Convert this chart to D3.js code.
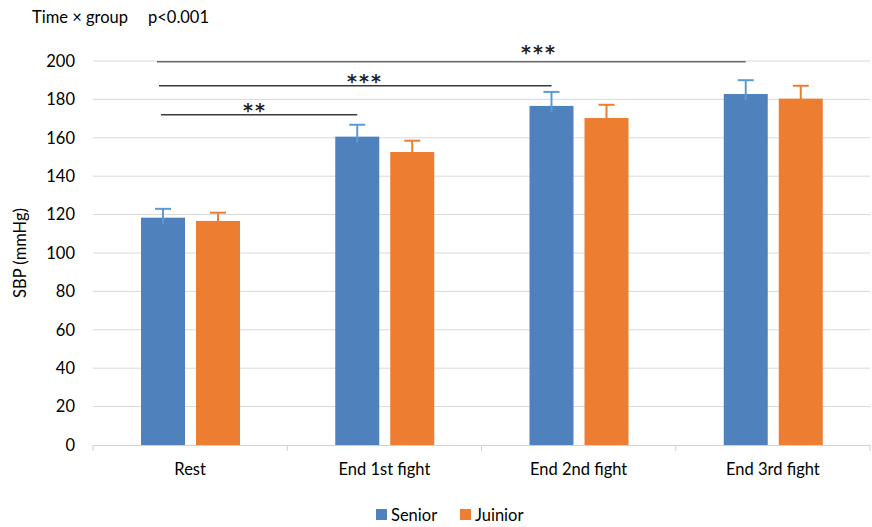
<!DOCTYPE html>
<html>
<head>
<meta charset="utf-8">
<script src="https://cdn.jsdelivr.net/npm/d3@7/dist/d3.min.js"></script>
<style>
  html, body { margin: 0; padding: 0; background: #fff; }
  svg { display: block; font-family: Lato, "Open Sans", sans-serif; }
</style>
</head>
<body>
<svg id="chart" width="872" height="527"></svg>
<script>
// Systolic blood pressure by time point and group
const categories = ["Rest", "End 1st fight", "End 2nd fight", "End 3rd fight"];
const groups = ["Senior", "Juinior"];
const seniorMean = [118.4, 160.6, 176.6, 182.8];
const seniorSD = [4.6, 6.2, 7.3, 7.2];
const juniorMean = [116.7, 152.6, 170.3, 180.4];
const juniorSD = [4.3, 5.9, 6.9, 6.7];
const yTicks = [0, 20, 40, 60, 80, 100, 120, 140, 160, 180, 200];
// pairwise comparisons against Rest (Senior bar)
const comparisons = [
  { to: 1, level: 172, label: "**" },
  { to: 2, level: 187.1, label: "***" },
  { to: 3, level: 199.6, label: "***" }
];
const interactionLabel = "Time \u00d7 group";
const interactionP = "p<0.001";

const colors = { Senior: "#4f81bd", Juinior: "#ed7d31" };
const errColors = { Senior: "#5b9bd5", Juinior: "#ed7d31" };
const FS = 16.5;

const svg = d3.select("#chart");
const m = { left: 93, right: 2, top: 61, bottom: 82 };
const W = 872, H = 527;

const x = d3.scaleBand().domain(categories).range([m.left, W - m.right]).paddingInner(0).paddingOuter(0);
const y = d3.scaleLinear().domain([0, 200]).range([H - m.bottom, m.top]);

// gridlines
svg.append("g").selectAll("line").data(yTicks.filter(d => d > 0)).join("line")
  .attr("x1", m.left).attr("x2", W - m.right)
  .attr("y1", d => y(d)).attr("y2", d => y(d))
  .attr("stroke", "#d9d9d9").attr("stroke-width", 1);

// y tick labels
svg.append("g").selectAll("text").data(yTicks).join("text")
  .attr("x", 75).attr("y", d => y(d)).attr("dy", "0.35em")
  .attr("text-anchor", "end").attr("font-size", FS).attr("fill", "#000")
  .text(d => d);

// y axis title
svg.append("text")
  .attr("transform", `translate(26,${(y(0) + y(200)) / 2}) rotate(-90)`)
  .attr("text-anchor", "middle").attr("font-size", FS).attr("fill", "#000")
  .text("SBP (mmHg)");

// x axis
const xAxis = d3.axisBottom(x).tickSize(0).tickPadding(0);
const gx = svg.append("g").attr("transform", `translate(0,${y(0)})`).call(xAxis);
gx.select(".domain").remove();
gx.selectAll(".tick text").attr("font-size", FS).attr("fill", "#000")
  .attr("font-family", "Lato, 'Open Sans', sans-serif").attr("dy", "1.8em");
svg.append("line").attr("x1", m.left).attr("x2", W - m.right)
  .attr("y1", y(0) + 0.5).attr("y2", y(0) + 0.5).attr("stroke", "#d0d0d0");
const boundaries = categories.map(c => x(c)).concat([x(categories[3]) + x.bandwidth()]);
svg.append("g").selectAll("line").data(boundaries).join("line")
  .attr("x1", d => d).attr("x2", d => d)
  .attr("y1", y(0)).attr("y2", y(0) + 6)
  .attr("stroke", "#d0d0d0");

// bars and error bars
const rows = [];
categories.forEach((c, i) => {
  rows.push({ cat: c, group: "Senior", mean: seniorMean[i], sd: seniorSD[i] });
  rows.push({ cat: c, group: "Juinior", mean: juniorMean[i], sd: juniorSD[i] });
});
const bw = 44;
const offsets = { Senior: 48, Juinior: 103 };
const bx = d => x(d.cat) + offsets[d.group];

svg.append("g").selectAll("rect").data(rows).join("rect")
  .attr("x", d => bx(d)).attr("width", bw)
  .attr("y", d => y(d.mean)).attr("height", d => y(0) - y(d.mean))
  .attr("fill", d => colors[d.group]);

const eb = svg.append("g").selectAll("g").data(rows).join("g")
  .attr("stroke", d => errColors[d.group]).attr("stroke-width", 2);
eb.append("line")
  .attr("x1", d => bx(d) + bw / 2).attr("x2", d => bx(d) + bw / 2)
  .attr("y1", d => y(d.mean) + 6).attr("y2", d => y(d.mean + d.sd));
eb.append("line")
  .attr("x1", d => bx(d) + bw / 2 - 8).attr("x2", d => bx(d) + bw / 2 + 8)
  .attr("y1", d => y(d.mean + d.sd)).attr("y2", d => y(d.mean + d.sd));

// significance brackets
const startX = [161, 159, 157];
const labelX = [255, 365, 539];
const labelShift = [2, 2, -3];
comparisons.forEach((cmp, i) => {
  const x1 = startX[i];
  const x2 = bx({ cat: categories[cmp.to], group: "Senior" }) + bw / 2;
  svg.append("line").attr("x1", x1).attr("x2", x2)
    .attr("y1", y(cmp.level)).attr("y2", y(cmp.level))
    .attr("stroke", i === 2 ? "#6a6a6a" : "#3a3a3a").attr("stroke-width", 1.3);
  svg.append("text").attr("x", labelX[i]).attr("y", y(cmp.level) + labelShift[i])
    .attr("text-anchor", "middle").attr("font-size", 19)
    .attr("font-family", "'DejaVu Sans', sans-serif").attr("font-weight", "bold")
    .attr("letter-spacing", "2px")
    .attr("fill", "#222").text(cmp.label);
});

// interaction note
svg.append("text").attr("x", 32).attr("y", 23).attr("font-size", FS).attr("fill", "#000")
  .text(interactionLabel);
svg.append("text").attr("x", 148).attr("y", 23).attr("font-size", FS).attr("fill", "#000")
  .text(interactionP);

// legend
const lg = svg.append("g").attr("transform", "translate(376,509)");
const items = lg.selectAll("g").data(groups).join("g")
  .attr("transform", (d, i) => `translate(${i * 84},0)`);
items.append("rect").attr("width", 11).attr("height", 11).attr("fill", d => colors[d]);
items.append("text").attr("x", 15).attr("y", 6).attr("dy", "0.35em")
  .attr("font-size", FS).attr("fill", "#000").text(d => d);
</script>
</body>
</html>
